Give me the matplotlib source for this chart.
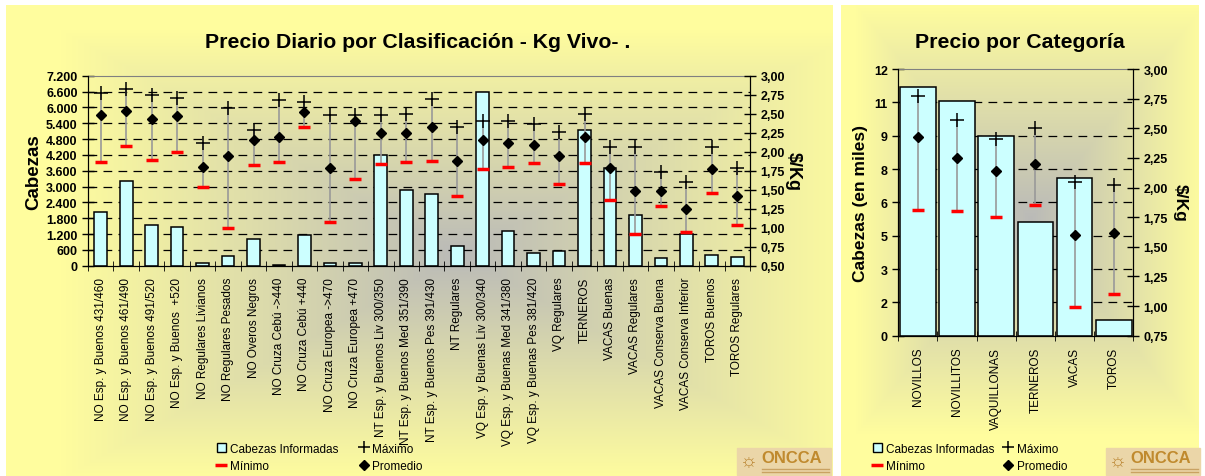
import numpy as np
import matplotlib
matplotlib.use('Agg')
import matplotlib.pyplot as plt
from matplotlib.lines import Line2D
from matplotlib.patches import Rectangle
from matplotlib.ticker import FuncFormatter, FixedLocator

plt.rcParams['font.family'] = ['Liberation Sans', 'DejaVu Sans']

# ---- data: daily price by classification ----
clases = ['NO Esp. y Buenos 431/460', 'NO Esp. y Buenos 461/490', 'NO Esp. y Buenos 491/520',
          'NO Esp. y Buenos  +520', 'NO Regulares Livianos', 'NO Regulares Pesados',
          'NO Overos Negros', 'NO Cruza Cebú ->440', 'NO Cruza Cebú +440',
          'NO Cruza Europea ->470', 'NO Cruza Europea +470', 'NT Esp. y Buenos Liv 300/350',
          'NT Esp. y Buenos Med 351/390', 'NT Esp. y Buenos Pes 391/430', 'NT Regulares',
          'VQ Esp. y Buenas Liv 300/340', 'VQ Esp. y Buenas Med 341/380',
          'VQ Esp. y Buenas Pes 381/420', 'VQ Regulares', 'TERNEROS', 'VACAS Buenas',
          'VACAS Regulares', 'VACAS Conserva Buena', 'VACAS Conserva Inferior',
          'TOROS Buenos', 'TOROS Regulares']
cabezas = [2050, 3200, 1550, 1470, 120, 370, 1010, 10, 1175, 110, 100, 4200,
           2880, 2700, 730, 6600, 1330, 500, 560, 5130, 3700, 1920, 280, 1190, 400, 320]
maximo = [2.77, 2.83, 2.75, 2.71, 2.11, 2.57, 2.28, 2.68, 2.66, 2.48, 2.48, 2.48,
          2.49, 2.70, 2.33, 2.41, 2.40, 2.36, 2.26, 2.49, 2.06, 2.06, 1.73, 1.60, 2.06, 1.78]
promedio = [2.48, 2.54, 2.43, 2.47, 1.80, 1.95, 2.16, 2.20, 2.52, 1.78, 2.40, 2.25,
            2.25, 2.33, 1.88, 2.16, 2.12, 2.09, 1.95, 2.20, 1.79, 1.48, 1.48, 1.24, 1.77, 1.42]
minimo = [1.86, 2.07, 1.89, 2.00, 1.54, 0.99, 1.83, 1.86, 2.32, 1.08, 1.64, 1.84,
          1.87, 1.88, 1.42, 1.77, 1.80, 1.85, 1.57, 1.85, 1.37, 0.92, 1.29, 0.94, 1.46, 1.04]

# ---- data: price by category ----
categorias = ['NOVILLOS', 'NOVILLITOS', 'VAQUILLONAS', 'TERNEROS', 'VACAS', 'TOROS']
cab_miles = [11.17, 10.55, 9.0, 5.13, 7.09, 0.72]
cat_max = [2.77, 2.57, 2.41, 2.50, 2.05, 2.02]
cat_prom = [2.43, 2.25, 2.14, 2.20, 1.60, 1.62]
cat_min = [1.81, 1.80, 1.75, 1.85, 0.99, 1.10]
cat_yticks = [0, 1.5, 3, 4.5, 6, 7.5, 9, 10.5, 12]
cat_ylabels = ['0', '2', '3', '5', '6', '8', '9', '11', '12']

W, H = 1205, 477
fig = plt.figure(figsize=(W / 100, H / 100), dpi=100)

# background: white page with two yellow panels, grey "from centre" gradient
yellow = np.array([255, 253, 158]) / 255.
grey = np.array([186, 186, 184]) / 255.
img = np.ones((H, W, 3))
yy, xx = np.mgrid[0:H, 0:W]
def panel(x0, x1, y0, y1, cx, cy, hw, hh):
    d = np.maximum(np.abs(xx - cx) / hw, np.abs(yy - cy) / hh)
    d = np.clip(d, 0, 1)[..., None]
    col = grey + (yellow - grey) * d
    m = (xx >= x0) & (xx < x1) & (yy >= y0) & (yy < y1)
    img[m] = col[m]
panel(6, 833, 6, H, 460, 255, 400, 225)
panel(841, 1199, 6, H, 1030, 220, 175, 215)
bg = fig.add_axes([0, 0, 1, 1], zorder=-10)
bg.imshow(img, extent=(0, W, H, 0), aspect='auto')
bg.set_xlim(0, W)
bg.set_ylim(H, 0)
bg.axis('off')

# ONCCA logos
for lx in (737, 1106):
    bg.add_patch(Rectangle((lx, 449), 94, 27, color='#EBD6A8', zorder=2))
    bg.text(lx + 3, 463, '☼', color='#B7802A', fontsize=14, va='center', zorder=3)
    bg.text(lx + 24, 459, 'ONCCA', color='#C08A2E', fontsize=12, fontweight='bold',
            va='center', zorder=3)
    bg.plot([lx + 25, lx + 92], [469.5, 469.5], color='#C9A262', lw=1, zorder=3)
    bg.plot([lx + 25, lx + 92], [472.5, 472.5], color='#C9A262', lw=1, zorder=3)

def frac(x0, y0, x1, y1):
    return [x0 / W, 1 - y1 / H, (x1 - x0) / W, (y1 - y0) / H]

grid_kw = dict(color='black', lw=0.9, dashes=(7, 5))
bar_kw = dict(color='#CCFFFF', edgecolor='black', linewidth=1.1, zorder=2)

def style_axes(ax, ax2):
    ax.patch.set_visible(False)
    ax.set_axisbelow(True)
    ax.spines['top'].set_color('#808080')
    for s in ('left', 'bottom', 'right'):
        ax.spines[s].set_color('black')
    ax2.spines['top'].set_visible(False)
    for a in (ax, ax2):
        a.tick_params(axis='y', direction='inout', length=8, width=1, labelsize=9)
        for t in a.get_yticklabels():
            t.set_fontweight('bold')

def draw_prices(ax2, x, mx, pr, mn):
    ax2.vlines(x, mn, mx, color='#999999', lw=1.2, zorder=3)
    ax2.plot(x, mn, ls='none', marker='_', color='#FF0000', ms=9, mew=2.5, zorder=4)
    ax2.plot(x, mx, ls='none', marker='+', color='black', ms=10, mew=1.1, zorder=4)
    ax2.plot(x, pr, ls='none', marker='D', color='black', ms=5.5, zorder=5)

# ---------------- left chart ----------------
n = len(clases)
x = np.arange(n)
ax = fig.add_axes(frac(88, 76.7, 750, 266.7))
ax.bar(x, cabezas, width=0.5, **bar_kw)
ax.set_ylim(0, 7200)
ax.set_yticks(np.arange(0, 7201, 600))
ax.yaxis.set_major_formatter(FuncFormatter(lambda v, p: f'{int(v):,}'.replace(',', '.')))
for v in np.arange(600, 7200, 600):
    ax.axhline(v, zorder=1, **grid_kw)
ax.set_xlim(-0.5, n - 0.5)
ax.set_xticks(x)
ax.set_xticklabels(clases, rotation=90, fontsize=8.5)
ax.tick_params(axis='x', which='major', length=0, pad=8)
ax.xaxis.set_minor_locator(FixedLocator(np.arange(n + 1) - 0.5))
ax.tick_params(axis='x', which='minor', length=7, direction='inout')
ax.set_ylabel('Cabezas', fontsize=13.5, fontweight='bold', labelpad=3)
ax2 = ax.twinx()
draw_prices(ax2, x, maximo, promedio, minimo)
ax2.set_ylim(0.5, 3.0)
ax2.set_yticks(np.arange(0.5, 3.01, 0.25))
ax2.yaxis.set_major_formatter(FuncFormatter(lambda v, p: f'{v:.2f}'.replace('.', ',')))
ax2.set_ylabel('$/Kg', fontsize=13, fontweight='bold', rotation=270, labelpad=12)
style_axes(ax, ax2)
fig.text(418 / W, 1 - 42 / H, 'Precio Diario por Clasificación - Kg Vivo- .',
         fontsize=15.3, fontweight='bold', ha='center', va='center')

# ---------------- right chart ----------------
m = len(categorias)
xc = np.arange(m)
bx = fig.add_axes(frac(898.3, 70, 1133.3, 336.7))
bx.bar(xc, cab_miles, width=0.91, **bar_kw)
bx.set_ylim(0, 12)
bx.set_yticks(cat_yticks)
bx.set_yticklabels(cat_ylabels)
for v in cat_yticks[1:-1]:
    bx.axhline(v, zorder=1, **grid_kw)
bx.set_xlim(-0.5, m - 0.5)
bx.set_xticks(xc)
bx.set_xticklabels(categorias, rotation=90, fontsize=8.5)
bx.tick_params(axis='x', which='major', length=0, pad=8)
bx.xaxis.set_minor_locator(FixedLocator(np.arange(m + 1) - 0.5))
bx.tick_params(axis='x', which='minor', length=7, direction='inout')
bx.set_ylabel('Cabezas (en miles)', fontsize=12.5, fontweight='bold', labelpad=4)
bx2 = bx.twinx()
draw_prices(bx2, xc, cat_max, cat_prom, cat_min)
bx2.set_ylim(0.75, 3.0)
bx2.set_yticks(np.arange(0.75, 3.01, 0.25))
bx2.yaxis.set_major_formatter(FuncFormatter(lambda v, p: f'{v:.2f}'.replace('.', ',')))
bx2.set_ylabel('$/Kg', fontsize=12.5, fontweight='bold', rotation=270, labelpad=14)
style_axes(bx, bx2)
fig.text(1020 / W, 1 - 42 / H, 'Precio por Categoría',
         fontsize=15.3, fontweight='bold', ha='center', va='center')

# ---------------- legends ----------------
handles = [Rectangle((0, 0), 1, 1, facecolor='#CCFFFF', edgecolor='black', lw=1),
           Line2D([], [], ls='none', marker='_', color='#FF0000', ms=9, mew=2.5),
           Line2D([], [], ls='none', marker='+', color='black', ms=8, mew=1.1),
           Line2D([], [], ls='none', marker='D', color='black', ms=5)]
names = ['Cabezas Informadas', 'Mínimo', 'Máximo', 'Promedio']
leg_kw = dict(ncol=2, frameon=False, fontsize=8.5, handlelength=0.8, handleheight=0.8,
              handletextpad=0.3, labelspacing=0.45, loc='upper left', borderaxespad=0)
fig.legend(handles, names, bbox_to_anchor=(212 / W, 1 - 439 / H), columnspacing=1.8, **leg_kw)
fig.legend(handles, names, bbox_to_anchor=(868 / W, 1 - 439 / H), columnspacing=0.8, **leg_kw)

fig.savefig('out.png', dpi=100)
